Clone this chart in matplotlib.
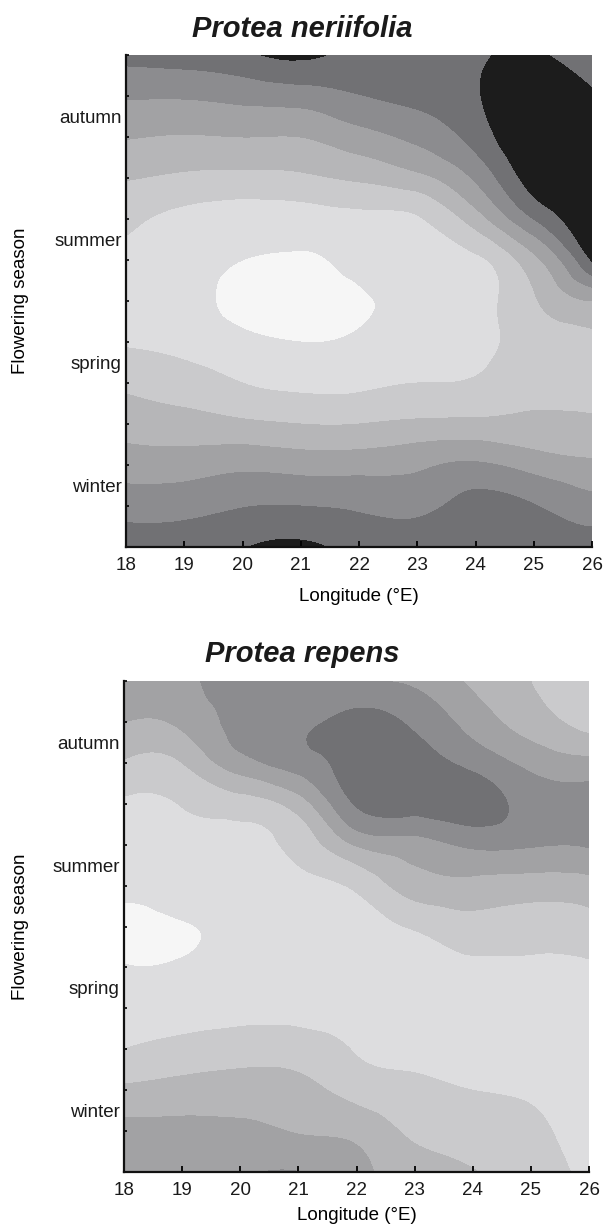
"""Flowering season against longitude for two Protea species (filled contours)."""

from matplotlib import pyplot
import matplotlib.tri as mtri
import numpy

# Grid of the surface: longitude (deg E) by month of the year.
longitudes = [18, 19, 20, 21, 22, 23, 24, 25, 26]
months = [0, 1, 2, 3, 4, 5, 6, 7, 8, 9, 10, 11, 12]

season_labels = ['winter', 'spring', 'summer', 'autumn']
season_centres = [1.5, 4.5, 7.5, 10.5]

# Contour class (0 = palest ... 7 = darkest).
# One row per month (bottom to top), one column per longitude.
neriifolia = [
    [6.10, 6.10, 6.45, 6.70, 6.20, 6.20, 6.10, 6.00, 6.00],
    [5.08, 5.14, 5.45, 5.50, 5.35, 5.25, 5.80, 5.55, 4.90],
    [4.02, 4.02, 4.25, 4.10, 4.10, 4.30, 4.65, 4.10, 3.70],
    [3.08, 2.90, 2.70, 2.50, 2.50, 2.70, 2.75, 2.75, 2.70],
    [2.28, 1.95, 1.50, 1.25, 1.30, 1.50, 1.60, 2.20, 2.10],
    [1.40, 1.20, 0.75, 0.50, 0.70, 1.05, 1.20, 2.00, 2.30],
    [1.10, 0.85, 0.20, 0.10, 0.35, 0.85, 1.10, 2.40, 3.50],
    [1.25, 0.90, 0.50, 0.40, 0.80, 1.10, 1.30, 3.20, 6.60],
    [1.74, 1.20, 1.00, 1.00, 1.20, 1.40, 3.00, 5.50, 7.30],
    [2.57, 2.30, 2.20, 2.30, 2.65, 3.20, 4.65, 7.00, 7.50],
    [3.56, 3.43, 3.50, 3.50, 4.10, 4.75, 5.90, 7.50, 7.30],
    [4.60, 4.60, 4.80, 5.00, 5.45, 5.80, 6.40, 7.20, 6.70],
    [5.85, 6.00, 6.30, 6.70, 6.20, 6.30, 6.40, 6.60, 5.50],
]

repens = [
    [4.30, 4.20, 4.35, 4.52, 3.80, 3.00, 2.55, 1.90, 1.35],
    [3.80, 3.75, 3.70, 3.45, 3.20, 2.30, 2.00, 1.70, 1.10],
    [2.70, 2.90, 3.00, 2.85, 2.10, 1.70, 1.50, 1.35, 1.00],
    [1.50, 1.80, 2.00, 1.95, 1.45, 1.25, 1.10, 1.00, 1.00],
    [1.00, 1.10, 1.20, 1.20, 1.15, 1.00, 1.00, 1.00, 1.20],
    [0.55, 0.60, 0.80, 0.90, 0.95, 1.10, 1.30, 1.30, 1.40],
    [0.20, 0.45, 0.70, 0.90, 1.10, 1.60, 2.10, 2.00, 2.10],
    [0.80, 0.90, 0.90, 1.20, 1.70, 3.00, 3.20, 3.00, 3.10],
    [1.10, 1.10, 1.30, 1.80, 3.60, 4.10, 4.70, 4.60, 4.60],
    [1.35, 1.55, 2.00, 3.00, 5.60, 6.00, 5.95, 5.10, 5.00],
    [2.40, 2.50, 4.10, 5.00, 6.05, 6.05, 5.20, 4.20, 3.80],
    [3.50, 3.70, 4.80, 5.30, 5.80, 5.30, 4.10, 3.00, 2.10],
    [4.20, 4.20, 5.00, 5.10, 4.60, 4.30, 3.30, 2.50, 1.80],
]

levels = [-5.0, 0.5, 1.5, 2.5, 3.5, 4.5, 5.5, 6.5, 12.0]
shades = ['#f6f6f6', '#dddddf', '#cacacc', '#b6b6b8',
          '#a2a2a4', '#8c8c8f', '#717174', '#1c1c1c']

pyplot.rcParams['font.family'] = ['Liberation Sans', 'DejaVu Sans']
pyplot.rcParams['text.color'] = '#1a1a1a'


def draw_panel(ax, values, labelpad):
    lon, mon = numpy.meshgrid(longitudes, months)
    tri = mtri.Triangulation(lon.ravel(), mon.ravel())
    refiner = mtri.UniformTriRefiner(tri)
    tri_f, z_f = refiner.refine_field(numpy.asarray(values).ravel(), subdiv=4)
    ax.tricontourf(tri_f, z_f, levels=levels, colors=shades)
    ax.set_xlim(18, 26)
    ax.set_ylim(0, 12)
    for side in ('top', 'right'):
        ax.spines[side].set_visible(False)
    for side in ('left', 'bottom'):
        ax.spines[side].set_linewidth(1.6)
        ax.spines[side].set_color('#111111')
    ax.set_xticks(longitudes)
    ax.set_yticks(months)
    ax.set_yticklabels([])
    ax.set_yticks(season_centres, minor=True)
    ax.set_yticklabels(season_labels, minor=True)
    ax.tick_params(axis='x', direction='in', length=4, width=1.3,
                   labelsize=13.5, pad=7, labelcolor='#1a1a1a')
    ax.tick_params(axis='y', which='major', direction='in', length=2.5,
                   width=1.2)
    ax.tick_params(axis='y', which='minor', length=0, labelsize=13.5,
                   pad=3, labelcolor='#1a1a1a')
    ax.set_xlabel('Longitude (°E)', fontsize=13.5, labelpad=labelpad)
    ax.set_ylabel('Flowering season', fontsize=13.5)


fig = pyplot.figure(figsize=(6.04, 12.25), dpi=100)
ax1 = fig.add_axes([126 / 604, 1 - 547 / 1225, 466 / 604, 492 / 1225])
ax2 = fig.add_axes([124 / 604, 1 - 1172 / 1225, 465 / 604, 491 / 1225])

draw_panel(ax1, neriifolia, 10)
draw_panel(ax2, repens, 6)
ax1.yaxis.set_label_coords(-0.208, 0.5)
ax2.yaxis.set_label_coords(-0.204, 0.5)

fig.text(0.5, 1 - 37 / 1225, 'Protea neriifolia', ha='center',
         va='baseline', fontsize=21, fontweight='bold', style='italic')
fig.text(0.5, 1 - 662 / 1225, 'Protea repens', ha='center',
         va='baseline', fontsize=21, fontweight='bold', style='italic')

fig.savefig('out.png', dpi=100)
